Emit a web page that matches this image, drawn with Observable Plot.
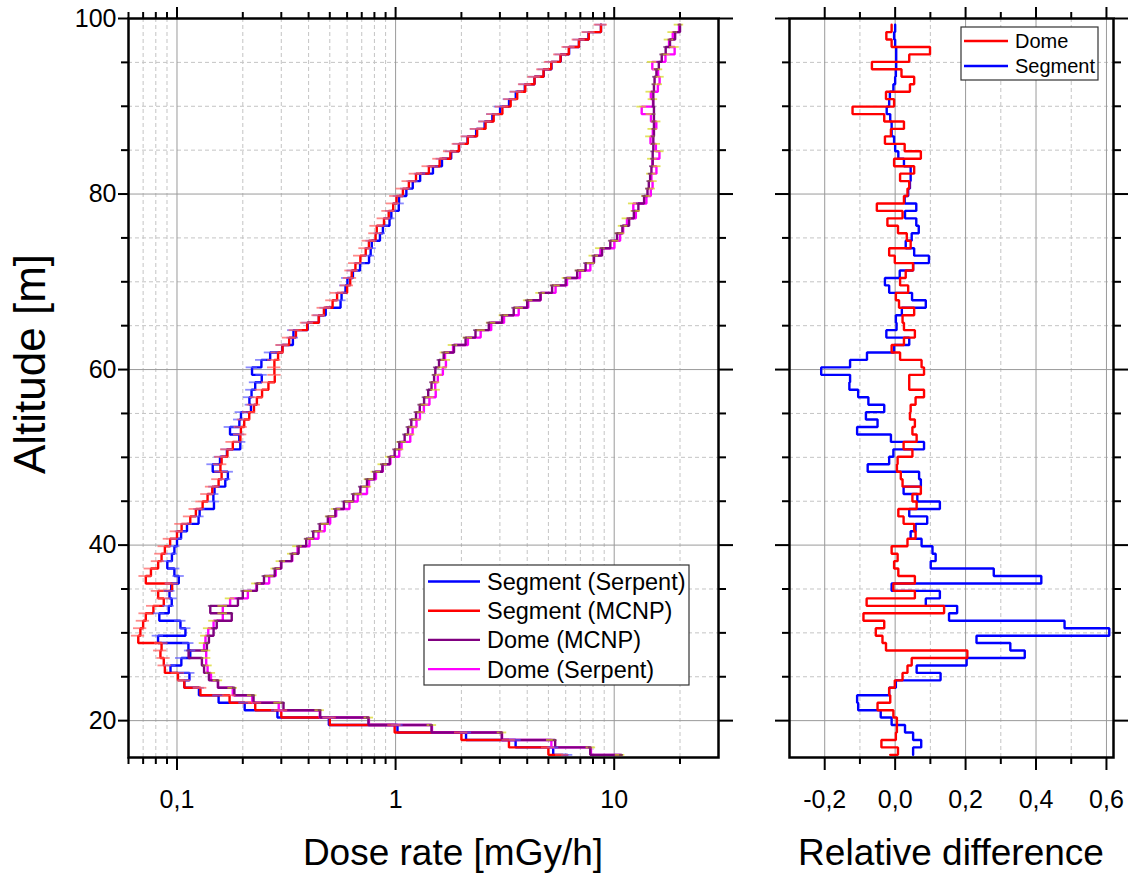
<!DOCTYPE html>
<html><head><meta charset="utf-8">
<script src="https://cdn.jsdelivr.net/npm/d3@7"></script>
<script src="https://cdn.jsdelivr.net/npm/@observablehq/plot@0.6"></script>
<style>
html,body{margin:0;padding:0;background:#fff;}
#wrap{position:relative;width:1130px;height:874px;overflow:hidden;background:#fff;}
#wrap > svg{position:absolute;top:0;}
</style></head><body><div id="wrap"></div>
<script>
// ---------- data ----------
const altitude = [
16.10,16.95,17.80,18.65,19.50,20.35,21.19,22.04,22.89,23.74,
24.59,25.44,26.29,27.14,27.99,28.84,29.68,30.53,31.38,32.23,
33.08,33.93,34.78,35.63,36.48,37.33,38.17,39.02,39.87,40.72,
41.57,42.42,43.27,44.12,44.97,45.82,46.66,47.51,48.36,49.21,
50.06,50.91,51.76,52.61,53.46,54.31,55.15,56.00,56.85,57.70,
58.55,59.40,60.25,61.10,61.95,62.80,63.64,64.49,65.34,66.19,
67.04,67.89,68.74,69.59,70.44,71.29,72.13,72.98,73.83,74.68,
75.53,76.38,77.23,78.08,78.93,79.78,80.62,81.47,82.32,83.17,
84.02,84.87,85.72,86.57,87.42,88.27,89.11,89.96,90.81,91.66,
92.51,93.36,94.21,95.06,95.91,96.76,97.60,98.45,99.30];

const segmentMCNP = [
5.8,5.0,3.3,2.0,0.99,0.50,0.30,0.228,0.174,0.128,
0.108,0.101,0.088,0.087,0.084,0.085,0.0665,0.068,0.070,0.072,
0.078,0.087,0.082,0.095,0.072,0.076,0.082,0.085,0.088,0.093,
0.100,0.105,0.115,0.122,0.131,0.138,0.145,0.155,0.160,0.158,
0.160,0.170,0.180,0.195,0.196,0.203,0.214,0.225,0.232,0.245,
0.262,0.280,0.279,0.279,0.29,0.304,0.326,0.35,0.394,0.445,
0.47,0.515,0.54,0.60,0.62,0.63,0.655,0.69,0.73,0.755,
0.81,0.82,0.885,0.93,0.975,1.01,1.08,1.15,1.24,1.42,
1.59,1.78,1.95,2.14,2.36,2.58,2.81,3.08,3.36,3.6,
3.92,4.32,4.75,5.15,5.68,6.2,6.9,7.65,8.7];

const segmentSerpent = [
6.10,5.26,3.54,2.10,1.02,0.495,0.288,0.204,0.155,0.126,
0.108,0.114,0.0934,0.1047,0.115,0.1128,0.0819,0.1093,0.1037,0.0830,
0.0917,0.0946,0.0924,0.0941,0.1019,0.0973,0.0903,0.0948,0.0973,0.100,
0.1044,0.1111,0.1255,0.1269,0.1476,0.1467,0.1485,0.1663,0.1709,0.1457,
0.1573,0.1692,0.1948,0.1927,0.1748,0.1929,0.1962,0.218,0.2144,0.2193,
0.2279,0.2442,0.2204,0.2433,0.2668,0.3031,0.339,0.341,0.396,0.446,
0.479,0.560,0.566,0.590,0.602,0.638,0.688,0.756,0.769,0.778,
0.848,0.875,0.938,0.956,1.034,1.037,1.12,1.198,1.295,1.482,
1.63,1.796,1.95,2.134,2.336,2.554,2.771,3.006,3.303,3.546,
3.90,4.32,4.76,5.165,5.697,6.219,6.9,7.627,8.7];

const domeMCNP = [
10.8,7.77,5.37,3.06,1.46,0.751,0.452,0.307,0.224,0.183,
0.154,0.140,0.133,0.130,0.113,0.137,0.140,0.147,0.152,0.178,
0.142,0.19,0.20,0.232,0.25,0.28,0.30,0.335,0.36,0.39,
0.42,0.45,0.49,0.53,0.58,0.64,0.69,0.74,0.80,0.87,
0.94,0.99,1.04,1.10,1.14,1.18,1.24,1.29,1.35,1.41,
1.46,1.50,1.52,1.58,1.66,1.85,2.09,2.32,2.67,3.07,
3.47,4.0,4.6,5.2,6.0,6.77,7.4,8.08,8.8,9.6,
10.3,10.9,11.7,12.3,12.9,13.7,14.2,14.4,14.6,14.8,
15.0,15.0,15.1,15.1,15.2,15.2,15.2,15.2,15.1,15.1,
15.2,15.3,15.6,16.0,16.5,17.2,18.0,19.0,20.0];

const domeSerpent = [
10.65,7.83,5.16,3.07,1.467,0.755,0.450,0.292,0.221,0.180,
0.154,0.143,0.138,0.136,0.136,0.133,0.135,0.139,0.147,0.162,
0.162,0.175,0.211,0.231,0.264,0.283,0.299,0.337,0.356,0.404,
0.444,0.474,0.502,0.535,0.615,0.671,0.740,0.756,0.813,0.874,
0.947,1.039,1.065,1.167,1.196,1.246,1.292,1.347,1.428,1.526,
1.518,1.56,1.645,1.699,1.683,1.832,2.142,2.45,2.737,3.134,
3.657,4.044,4.609,5.392,6.084,6.973,7.777,8.072,8.65,10.02,
10.64,10.99,11.44,12.56,12.23,14.04,14.70,14.98,14.80,15.60,
14.96,16.10,15.51,14.66,15.02,15.58,14.73,13.36,15.05,14.71,
15.84,16.13,15.88,14.94,17.16,18.90,17.82,18.53,19.80];

const relDiffDome = [
-0.014,0.008,-0.039,0.002,0.005,0.005,-0.005,-0.050,-0.014,-0.017,
-0.001,0.021,0.035,0.047,0.205,-0.026,-0.036,-0.055,-0.031,-0.090,
0.139,-0.081,0.056,-0.005,0.056,0.009,-0.003,0.007,-0.010,0.035,
0.058,0.054,0.024,0.009,0.061,0.049,0.073,0.021,0.016,0.005,
0.007,0.049,0.024,0.061,0.049,0.056,0.042,0.044,0.058,0.082,
0.040,0.040,0.082,0.075,0.014,-0.010,0.025,0.056,0.025,0.021,
0.054,0.011,0.002,0.037,0.014,0.030,0.051,-0.001,-0.017,0.044,
0.033,0.008,-0.022,0.021,-0.052,0.025,0.035,0.040,0.014,0.054,
-0.003,0.073,0.027,-0.029,-0.012,0.025,-0.031,-0.121,-0.003,-0.026,
0.042,0.054,0.018,-0.066,0.040,0.099,-0.010,-0.025,-0.010];

const relDiffSegment = [
0.051,0.051,0.074,0.051,0.028,-0.010,-0.041,-0.105,-0.108,-0.017,
0.002,0.129,0.061,0.203,0.368,0.327,0.231,0.608,0.481,0.153,
0.176,0.087,0.127,-0.010,0.415,0.280,0.101,0.115,0.106,0.075,
0.044,0.058,0.091,0.040,0.127,0.063,0.024,0.073,0.068,-0.078,
-0.017,-0.005,0.082,-0.012,-0.108,-0.050,-0.083,-0.031,-0.076,-0.105,
-0.130,-0.128,-0.210,-0.128,-0.080,-0.003,0.040,-0.025,0.004,0.002,
0.019,0.087,0.048,-0.017,-0.029,0.013,0.051,0.096,0.054,0.030,
0.047,0.067,0.060,0.028,0.060,0.027,0.037,0.042,0.044,0.044,
0.025,0.009,0.000,-0.003,-0.010,-0.010,-0.014,-0.024,-0.017,-0.015,
-0.005,0.000,0.002,0.003,0.003,0.003,0.000,-0.003,0.000];

// relative statistical uncertainty drawn as horizontal error bars, per series
const seriesNames = ["Segment (Serpent)", "Segment (MCNP)", "Dome (MCNP)", "Dome (Serpent)"];
const seriesErrorFraction = [0.06, 0.07, 0.02, 0.05];
const relDiffNames = ["Dome", "Segment"];

// ticks
const doseTicks = [0.1, 1, 10];
const doseTickLabels = ["0,1", "1", "10"];
const doseMinorTicks = [0.06,0.07,0.08,0.09,0.2,0.3,0.4,0.5,0.6,0.7,0.8,0.9,2,3,4,5,6,7,8,9,20];
const altTicks = [20, 40, 60, 80, 100];
const altMinorTicks = [25,30,35,45,50,55,65,70,75,85,90,95];
const relTicks = [-0.2, 0, 0.2, 0.4, 0.6];
const relTickLabels = ["-0,2", "0,0", "0,2", "0,4", "0,6"];
const relMinorTicks = [-0.1, 0.1, 0.3, 0.5];

// ---------- styling ----------
const FONT = '"Liberation Sans", Arial, Helvetica, sans-serif';
const seriesColors = ["#0000ff", "#ff0000", "#800080", "#ff00ff"];
const errorColors = ["#5a5aff", "#ff5a5a", "#6a1a6a", "#d6d61a"];
const relColors = ["#ff0000", "#0000ff"];
const gridMajor = {stroke: "#9a9a9a", strokeOpacity: 1, strokeWidth: 1};
const gridMinor = {stroke: "#c4c4c4", strokeOpacity: 1, strokeWidth: 1, strokeDasharray: "4,3"};
const blank = () => "";
const LW = 2.4;

function rowsOf(values) { return altitude.map((a, i) => ({alt: a, v: values[i]})); }
const seriesValues = [segmentSerpent, segmentMCNP, domeMCNP, domeSerpent];
const seriesRows = seriesValues.map(rowsOf);
const relRows = [relDiffDome, relDiffSegment].map(rowsOf);

const drawOrder = [0, 1, 3, 2];
const lineMarks = drawOrder.map(k => Plot.line(seriesRows[k], {
  x: "v", y: "alt", curve: "step-after", stroke: seriesColors[k], strokeWidth: LW, strokeLinejoin: "miter"
}));
const errMarks = drawOrder.map(k => Plot.ruleY(seriesRows[k], {
  y: "alt",
  x1: d => d.v * (1 - seriesErrorFraction[k]),
  x2: d => d.v * (1 + seriesErrorFraction[k]),
  stroke: errorColors[k], strokeWidth: 1.8, strokeOpacity: 0.7
}));

function frameAxes(xMajor, xMinor, xFormat, yMajor, yMinor, withYLabels) {
  return [
    Plot.axisX({anchor: "bottom", ticks: xMajor, tickSize: 13, tickPadding: 20, tickFormat: xFormat, label: null, strokeWidth: 2, fontSize: 25}),
    Plot.axisX({anchor: "bottom", ticks: xMinor, tickSize: 7, tickFormat: blank, label: null, strokeWidth: 2}),
    Plot.axisX({anchor: "top", ticks: xMajor, tickSize: 12, tickFormat: blank, label: null, strokeWidth: 2}),
    Plot.axisX({anchor: "top", ticks: xMinor, tickSize: 7, tickFormat: blank, label: null, strokeWidth: 2}),
    Plot.axisY({anchor: "left", ticks: yMajor, tickSize: withYLabels ? 10 : 14, tickPadding: 2,
      tickFormat: withYLabels ? (d => String(d)) : blank, label: null, strokeWidth: 2, fontSize: 25}),
    Plot.axisY({anchor: "left", ticks: yMinor, tickSize: 7, tickFormat: blank, label: null, strokeWidth: 2}),
    Plot.axisY({anchor: "right", ticks: yMajor, tickSize: 14, tickFormat: blank, label: null, strokeWidth: 2}),
    Plot.axisY({anchor: "right", ticks: yMinor, tickSize: 7, tickFormat: blank, label: null, strokeWidth: 2}),
    Plot.frame({stroke: "#000", strokeWidth: 2.5})
  ];
}

const leftPlot = Plot.plot({
  width: 760, height: 874,
  marginLeft: 128, marginRight: 42, marginTop: 18, marginBottom: 117,
  style: {fontFamily: FONT, fontSize: "25px", color: "#000", background: "transparent", overflow: "visible"},
  x: {type: "log", domain: [0.06, 30]},
  y: {domain: [15.8, 100]},
  marks: [
    Plot.gridX({ticks: doseMinorTicks, ...gridMinor}),
    Plot.gridY({ticks: altMinorTicks, ...gridMinor}),
    Plot.gridX({ticks: doseTicks, ...gridMajor}),
    Plot.gridY({ticks: altTicks, ...gridMajor}),
    ...lineMarks,
    ...errMarks,
    ...frameAxes(doseTicks, doseMinorTicks, d => doseTickLabels[doseTicks.indexOf(d)], altTicks, altMinorTicks, true)
  ]
});

const rightPlot = Plot.plot({
  width: 370, height: 874,
  marginLeft: 29, marginRight: 17, marginTop: 18, marginBottom: 117,
  style: {fontFamily: FONT, fontSize: "25px", color: "#000", background: "transparent", overflow: "visible"},
  x: {domain: [-0.3, 0.62]},
  y: {domain: [15.8, 100]},
  marks: [
    Plot.gridX({ticks: relMinorTicks, ...gridMinor}),
    Plot.gridY({ticks: altMinorTicks, ...gridMinor}),
    Plot.gridX({ticks: relTicks, ...gridMajor}),
    Plot.gridY({ticks: altTicks, ...gridMajor}),
    Plot.line(relRows[1], {x: "v", y: "alt", curve: "step-after", stroke: relColors[1], strokeWidth: LW, strokeLinejoin: "miter"}),
    Plot.line(relRows[0], {x: "v", y: "alt", curve: "step-after", stroke: relColors[0], strokeWidth: LW, strokeLinejoin: "miter"}),
    ...frameAxes(relTicks, relMinorTicks, d => relTickLabels[relTicks.findIndex(t => Math.abs(t - d) < 1e-9)], altTicks, altMinorTicks, false)
  ]
});

const wrap = document.getElementById("wrap");
leftPlot.style.position = "absolute"; leftPlot.style.left = "0px"; leftPlot.style.top = "0px";
rightPlot.style.position = "absolute"; rightPlot.style.left = "760px"; rightPlot.style.top = "0px";
wrap.appendChild(leftPlot);
wrap.appendChild(rightPlot);

// ---------- titles and legends ----------
const ov = d3.create("svg").attr("width", 1130).attr("height", 874)
  .style("position", "absolute").style("left", "0px").style("top", "0px")
  .attr("font-family", FONT).attr("fill", "#000");
ov.append("text").attr("x", 453).attr("y", 865).attr("text-anchor", "middle").attr("font-size", 37).text("Dose rate [mGy/h]");
ov.append("text").attr("x", 951).attr("y", 865).attr("text-anchor", "middle").attr("font-size", 37).text("Relative difference");
ov.append("text").attr("transform", "translate(45,364) rotate(-90)").attr("text-anchor", "middle").attr("font-size", 44).text("Altitude [m]");

const legL = ov.append("g");
legL.append("rect").attr("x", 424).attr("y", 565).attr("width", 265).attr("height", 120)
  .attr("fill", "#fff").attr("stroke", "#333").attr("stroke-width", 1.2);
[0, 1, 2, 3].forEach(k => {
  const y = 581.5 + k * 29.2;
  legL.append("line").attr("x1", 428).attr("x2", 480).attr("y1", y).attr("y2", y).attr("stroke", seriesColors[k]).attr("stroke-width", LW);
  legL.append("text").attr("x", 487).attr("y", y).attr("dy", "0.36em").attr("font-size", 23.5).text(seriesNames[k]);
});

const legR = ov.append("g");
legR.append("rect").attr("x", 961).attr("y", 27).attr("width", 137).attr("height", 53)
  .attr("fill", "#fff").attr("stroke", "#333").attr("stroke-width", 1.2);
[0, 1].forEach(k => {
  const y = 41 + k * 25;
  legR.append("line").attr("x1", 964).attr("x2", 1008).attr("y1", y).attr("y2", y).attr("stroke", relColors[k]).attr("stroke-width", LW);
  legR.append("text").attr("x", 1015).attr("y", y).attr("dy", "0.36em").attr("font-size", 20).text(relDiffNames[k]);
});
wrap.appendChild(ov.node());
</script></body></html>
